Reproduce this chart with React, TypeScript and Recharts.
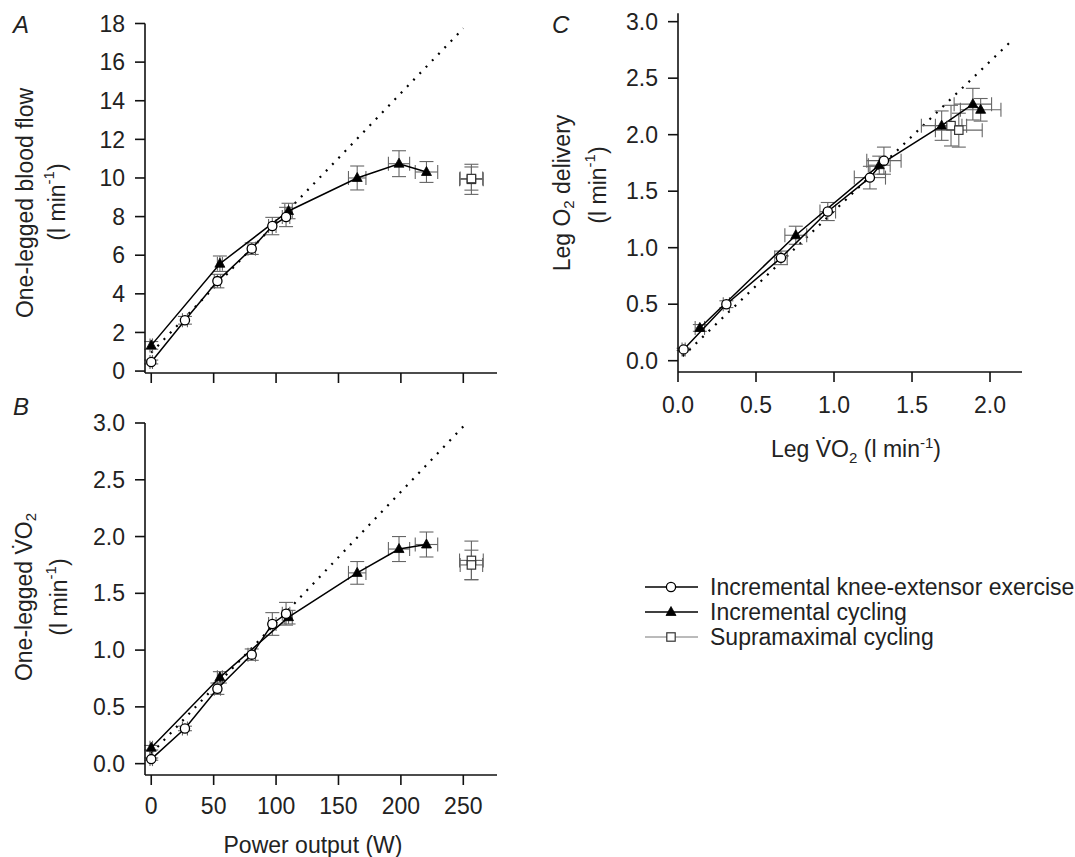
import React from 'react';
import { ScatterChart, Scatter, XAxis, YAxis, ErrorBar, ReferenceLine } from 'recharts';

// ---------- Data ----------
// Power output (W)
const kneePower = [0, 27, 53, 80.5, 97, 108];
const kneePowerErr = [1, 2, 2.5, 3, 3, 3];
const cyclePower = [0, 55, 110, 165, 198.5, 220.5];
const cyclePowerErr = [1, 2, 3, 7, 8.5, 9];
const supraPower = [256.5, 256.5];
const supraPowerErr = [9.5, 9];

// Panel A: one-legged blood flow (l/min)
const kneeFlow = [0.47, 2.63, 4.66, 6.34, 7.51, 7.98];
const kneeFlowErr = [0.1, 0.2, 0.35, 0.3, 0.45, 0.5];
const cycleFlow = [1.33, 5.56, 8.29, 10.0, 10.74, 10.31];
const cycleFlowErr = [0.2, 0.4, 0.4, 0.62, 0.67, 0.54];
const supraFlow = [9.93, 9.97];
const supraFlowErr = [0.78, 0.6];
const flowDotted = [
  { x: 0, y: 0.95 },
  { x: 250, y: 17.75 },
];

// Panel B: one-legged VO2 (l/min)
const kneeVO2 = [0.04, 0.31, 0.66, 0.96, 1.23, 1.32];
const kneeVO2Err = [0.01, 0.02, 0.05, 0.05, 0.1, 0.1];
const cycleVO2 = [0.14, 0.76, 1.29, 1.68, 1.89, 1.93];
const cycleVO2Err = [0.02, 0.05, 0.06, 0.1, 0.11, 0.11];
const supraVO2 = [1.79, 1.75];
const supraVO2Err = [0.17, 0.13];
const vo2Dotted = [
  { x: 0, y: 0.09 },
  { x: 250, y: 2.97 },
];

// Panel C: leg VO2 (x) vs leg O2 delivery (y)
const kneeLegVO2 = [0.036, 0.31, 0.66, 0.96, 1.23, 1.32];
const kneeLegVO2Err = [0.01, 0.02, 0.04, 0.05, 0.1, 0.11];
const kneeDelivery = [0.1, 0.5, 0.91, 1.32, 1.62, 1.77];
const kneeDeliveryErr = [0.01, 0.03, 0.06, 0.08, 0.1, 0.12];
const cycleLegVO2 = [0.14, 0.755, 1.29, 1.69, 1.89, 1.94];
const cycleLegVO2Err = [0.03, 0.07, 0.07, 0.13, 0.12, 0.13];
const cycleDelivery = [0.29, 1.11, 1.73, 2.08, 2.27, 2.22];
const cycleDeliveryErr = [0.03, 0.08, 0.08, 0.13, 0.14, 0.1];
const supraLegVO2 = [1.75, 1.8];
const supraLegVO2Err = [0.1, 0.15];
const supraDelivery = [2.08, 2.04];
const supraDeliveryErr = [0.18, 0.15];
const deliveryDotted = [
  { x: 0.03, y: 0.04 },
  { x: 2.145, y: 2.84 },
];

// Ticks
const powerTicks = [0, 50, 100, 150, 200, 250];
const flowTicks = [0, 2, 4, 6, 8, 10, 12, 14, 16, 18];
const vo2Ticks = [0, 0.5, 1.0, 1.5, 2.0, 2.5, 3.0];
const legVO2Ticks = [0, 0.5, 1.0, 1.5, 2.0];

const legendItems = ['Incremental knee-extensor exercise', 'Incremental cycling', 'Supramaximal cycling'];

// ---------- Helpers ----------
const zip = (xs: number[], ys: number[], exs: number[], eys: number[]) =>
  xs.map((x, i) => ({ x, y: ys[i], ex: exs[i], ey: eys[i] }));

const FONT = '"Liberation Sans", Arial, Helvetica, sans-serif';
const FS = 23;
const axisLineStyle = { stroke: '#111', strokeWidth: 1.6 };
const tickStyle = { fill: '#222', fontSize: FS, fontFamily: FONT };
const ERR = '#666';

const CircleShape = (p: any) => (
  <circle cx={p.cx} cy={p.cy} r={4.6} fill="#fff" stroke="#000" strokeWidth={1.3} />
);
const TriangleShape = (p: any) => (
  <polygon
    points={`${p.cx},${p.cy - 5.5} ${p.cx - 5},${p.cy + 3.5} ${p.cx + 5},${p.cy + 3.5}`}
    fill="#000"
    stroke="#000"
    strokeWidth={0.8}
  />
);
const SquareShape = (p: any) => (
  <rect x={p.cx - 4.2} y={p.cy - 4.2} width={8.4} height={8.4} fill="#fff" stroke="#333" strokeWidth={1.2} />
);

const fmt1 = (v: number) => v.toFixed(1);
const blank = () => '';

const dotted = { stroke: '#000', strokeWidth: 2.2, strokeDasharray: '2 7' };

function renderSeries(knee: any[], cycle: any[], supra: any[]) {
  return [
    <Scatter
      key="cycle"
      name="Incremental cycling"
      data={cycle}
      line={{ stroke: '#000', strokeWidth: 1.5 }}
      lineType="joint"
      shape={TriangleShape}
      isAnimationActive={false}
    >
      <ErrorBar dataKey="ex" direction="x" width={7} stroke={ERR} strokeWidth={1.1} />
      <ErrorBar dataKey="ey" direction="y" width={7} stroke={ERR} strokeWidth={1.1} />
    </Scatter>,
    <Scatter
      key="knee"
      name="Incremental knee-extensor exercise"
      data={knee}
      line={{ stroke: '#000', strokeWidth: 1.5 }}
      lineType="joint"
      shape={CircleShape}
      isAnimationActive={false}
    >
      <ErrorBar dataKey="ex" direction="x" width={7} stroke={ERR} strokeWidth={1.1} />
      <ErrorBar dataKey="ey" direction="y" width={7} stroke={ERR} strokeWidth={1.1} />
    </Scatter>,
    <Scatter
      key="supra"
      name="Supramaximal cycling"
      data={supra}
      line={{ stroke: '#777', strokeWidth: 1 }}
      lineType="joint"
      shape={SquareShape}
      isAnimationActive={false}
    >
      <ErrorBar dataKey="ex" direction="x" width={7} stroke={ERR} strokeWidth={1.1} />
      <ErrorBar dataKey="ey" direction="y" width={7} stroke={ERR} strokeWidth={1.1} />
    </Scatter>,
  ];
}

const Unit = ({ sup = -9 }: { sup?: number }) => (
  <>
    <tspan>(l min</tspan>
    <tspan dy={sup} fontSize={15}>-1</tspan>
    <tspan dy={-sup}>)</tspan>
  </>
);

export default function App() {
  const aKnee = zip(kneePower, kneeFlow, kneePowerErr, kneeFlowErr);
  const aCycle = zip(cyclePower, cycleFlow, cyclePowerErr, cycleFlowErr);
  const aSupra = zip(supraPower, supraFlow, supraPowerErr, supraFlowErr);

  const bKnee = zip(kneePower, kneeVO2, kneePowerErr, kneeVO2Err);
  const bCycle = zip(cyclePower, cycleVO2, cyclePowerErr, cycleVO2Err);
  const bSupra = zip(supraPower, supraVO2, supraPowerErr, supraVO2Err);

  const cKnee = zip(kneeLegVO2, kneeDelivery, kneeLegVO2Err, kneeDeliveryErr);
  const cCycle = zip(cycleLegVO2, cycleDelivery, cycleLegVO2Err, cycleDeliveryErr);
  const cSupra = zip(supraLegVO2, supraDelivery, supraLegVO2Err, supraDeliveryErr);

  const textFill = '#222';

  return (
    <div style={{ position: 'absolute', left: 0, top: 0, width: 1075, height: 857, background: '#fff', fontFamily: FONT }}>
      {/* Panel A */}
      <div style={{ position: 'absolute', left: 0, top: 0 }}>
        <ScatterChart width={520} height={410} margin={{ top: 23.5, right: 23, bottom: 7, left: 85 }}>
          <XAxis
            type="number"
            dataKey="x"
            domain={[-5, 277]}
            ticks={powerTicks}
            allowDataOverflow
            tickFormatter={blank}
            tickSize={10}
            height={30}
            axisLine={axisLineStyle}
            tickLine={axisLineStyle}
          />
          <YAxis
            type="number"
            dataKey="y"
            domain={[-0.1, 18]}
            ticks={flowTicks}
            allowDataOverflow
            width={60}
            tickSize={10}
            tickMargin={10}
            tick={tickStyle}
            axisLine={axisLineStyle}
            tickLine={axisLineStyle}
          />
          <ReferenceLine segment={flowDotted} ifOverflow="visible" {...dotted} />
          {renderSeries(aKnee, aCycle, aSupra)}
        </ScatterChart>
      </div>

      {/* Panel B */}
      <div style={{ position: 'absolute', left: 0, top: 380 }}>
        <ScatterChart width={520} height={470} margin={{ top: 43, right: 23, bottom: 45, left: 85 }}>
          <XAxis
            type="number"
            dataKey="x"
            domain={[-5, 277]}
            ticks={powerTicks}
            allowDataOverflow
            tickSize={10}
            tickMargin={13}
            tick={tickStyle}
            height={30}
            axisLine={axisLineStyle}
            tickLine={axisLineStyle}
          />
          <YAxis
            type="number"
            dataKey="y"
            domain={[-0.1, 3.0]}
            ticks={vo2Ticks}
            tickFormatter={fmt1}
            allowDataOverflow
            width={60}
            tickSize={10}
            tickMargin={10}
            tick={tickStyle}
            axisLine={axisLineStyle}
            tickLine={axisLineStyle}
          />
          <ReferenceLine segment={vo2Dotted} ifOverflow="visible" {...dotted} />
          {renderSeries(bKnee, bCycle, bSupra)}
        </ScatterChart>
      </div>

      {/* Panel C */}
      <div style={{ position: 'absolute', left: 540, top: 0 }}>
        <ScatterChart width={520} height={440} margin={{ top: 13.3, right: 38, bottom: 38, left: 78 }}>
          <XAxis
            type="number"
            dataKey="x"
            domain={[0, 2.205]}
            ticks={legVO2Ticks}
            tickFormatter={fmt1}
            allowDataOverflow
            tickSize={10}
            tickMargin={15}
            tick={tickStyle}
            height={30}
            axisLine={axisLineStyle}
            tickLine={axisLineStyle}
          />
          <YAxis
            type="number"
            dataKey="y"
            domain={[-0.1, 3.074]}
            ticks={vo2Ticks}
            tickFormatter={fmt1}
            allowDataOverflow
            width={60}
            tickSize={10}
            tickMargin={10}
            tick={tickStyle}
            axisLine={axisLineStyle}
            tickLine={axisLineStyle}
          />
          <ReferenceLine segment={deliveryDotted} ifOverflow="visible" {...dotted} />
          {renderSeries(cKnee, cCycle, cSupra)}
        </ScatterChart>
      </div>

      {/* Text overlay: panel letters, axis titles, legend */}
      <svg
        width={1075}
        height={857}
        style={{ position: 'absolute', left: 0, top: 0, pointerEvents: 'none' }}
        fontFamily={FONT}
        fontSize={FS}
        fill={textFill}
      >
        <text x={13} y={33} fontStyle="italic" fontSize={24}>A</text>
        <text x={13} y={415} fontStyle="italic" fontSize={24}>B</text>
        <text x={552} y={33} fontStyle="italic" fontSize={24}>C</text>

        {/* A y title */}
        <text transform="translate(25,203) rotate(-90)" textAnchor="middle" dominantBaseline="central">
          One-legged blood flow
        </text>
        <text transform="translate(57,202) rotate(-90)" textAnchor="middle" dominantBaseline="central">
          <Unit />
        </text>

        {/* B y title */}
        <text transform="translate(24,597) rotate(-90)" textAnchor="middle" dominantBaseline="central">
          <tspan>One-legged V{'\u0307'}O</tspan>
          <tspan dy={6} fontSize={15}>2</tspan>
        </text>
        <text transform="translate(59,597) rotate(-90)" textAnchor="middle" dominantBaseline="central">
          <Unit />
        </text>

        {/* B x title */}
        <text x={313} y={853} textAnchor="middle">Power output (W)</text>

        {/* C y title */}
        <text transform="translate(562,193) rotate(-90)" textAnchor="middle" dominantBaseline="central">
          <tspan>Leg O</tspan>
          <tspan dy={6} fontSize={15}>2</tspan>
          <tspan dy={-6}> delivery</tspan>
        </text>
        <text transform="translate(598,185) rotate(-90)" textAnchor="middle" dominantBaseline="central">
          <Unit />
        </text>

        {/* C x title */}
        <text x={856} y={457} textAnchor="middle">
          <tspan>Leg V{'\u0307'}O</tspan>
          <tspan dy={6} fontSize={15}>2</tspan>
          <tspan dy={-6}> (l min</tspan>
          <tspan dy={-9} fontSize={15}>-1</tspan>
          <tspan dy={9}>)</tspan>
        </text>

        {/* Legend */}
        {legendItems.map((label, i) => {
          const y = 587 + i * 25;
          const lineColor = i === 2 ? '#777' : '#000';
          const lw = i === 2 ? 1 : 1.5;
          return (
            <g key={label}>
              <line x1={645} x2={698} y1={y} y2={y} stroke={lineColor} strokeWidth={lw} />
              {i === 0 && <CircleShape cx={671} cy={y} />}
              {i === 1 && <TriangleShape cx={671} cy={y} />}
              {i === 2 && <SquareShape cx={671} cy={y} />}
              <text x={710} y={y + 8}>{label}</text>
            </g>
          );
        })}
      </svg>
    </div>
  );
}
